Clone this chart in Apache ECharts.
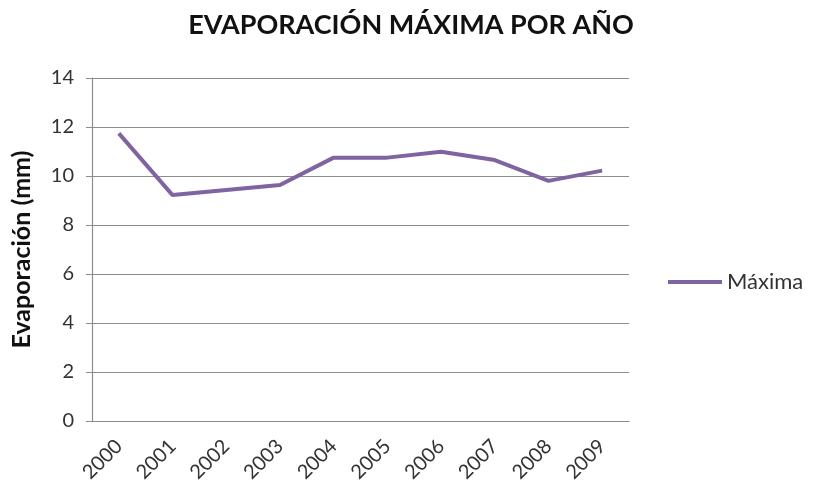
<!DOCTYPE html>
<html>
<head>
<meta charset="utf-8">
<script src="https://cdn.jsdelivr.net/npm/echarts@6/dist/echarts.min.js"></script>
<style>
  html, body { margin: 0; padding: 0; background: #fff; }
  #chart { width: 818px; height: 488px; }
</style>
</head>
<body>
<div id="chart"></div>
<script>
// datos
var years = ['2000', '2001', '2002', '2003', '2004', '2005', '2006', '2007', '2008', '2009'];
var maxima = [11.74, 9.22, 9.43, 9.63, 10.75, 10.75, 10.99, 10.65, 9.8, 10.22];
var yTicks = [0, 2, 4, 6, 8, 10, 12, 14];

var font = 'Lato, "Open Sans", sans-serif';
var chart = echarts.init(document.getElementById('chart'));

chart.setOption({
    animation: false,
    textStyle: { fontFamily: font },
    title: {
        text: 'EVAPORACIÓN MÁXIMA POR AÑO',
        left: 406,
        textAlign: 'center',
        top: 7,
        textStyle: { fontFamily: font, fontSize: 27, fontWeight: 'bold', color: '#111' }
    },
    legend: {
        left: 663,
        top: 266,
        icon: 'rect',
        itemWidth: 54,
        itemHeight: 4,
        itemGap: 6,
        textStyle: { fontFamily: font, fontSize: 22, color: '#333' },
        data: ['Máxima']
    },
    grid: { left: 92, right: 189, top: 78, bottom: 67 },
    xAxis: {
        type: 'category',
        data: years,
        boundaryGap: true,
        axisLine: { lineStyle: { color: '#8c8c8c', width: 1.2 } },
        axisTick: { show: false },
        axisLabel: { rotate: 45, margin: 22, fontSize: 20, color: '#333', fontFamily: font }
    },
    yAxis: {
        type: 'value',
        min: yTicks[0],
        max: yTicks[yTicks.length - 1],
        interval: 2,
        name: 'Evaporación (mm)',
        nameLocation: 'middle',
        nameGap: 58,
        nameRotate: 90,
        nameTextStyle: { fontFamily: font, fontSize: 25, fontWeight: 'bold', color: '#111' },
        axisLine: { show: true, lineStyle: { color: '#8c8c8c', width: 1.2 } },
        axisTick: { show: true, length: 6, lineStyle: { color: '#8c8c8c' } },
        axisLabel: { margin: 18, fontSize: 20, color: '#333', fontFamily: font },
        splitLine: { lineStyle: { color: '#8c8c8c', width: 1.2 } }
    },
    series: [{
        name: 'Máxima',
        type: 'line',
        data: maxima,
        symbol: 'none',
        itemStyle: { color: '#8064a2' },
        lineStyle: { color: '#8064a2', width: 4 }
    }]
});
</script>
</body>
</html>
